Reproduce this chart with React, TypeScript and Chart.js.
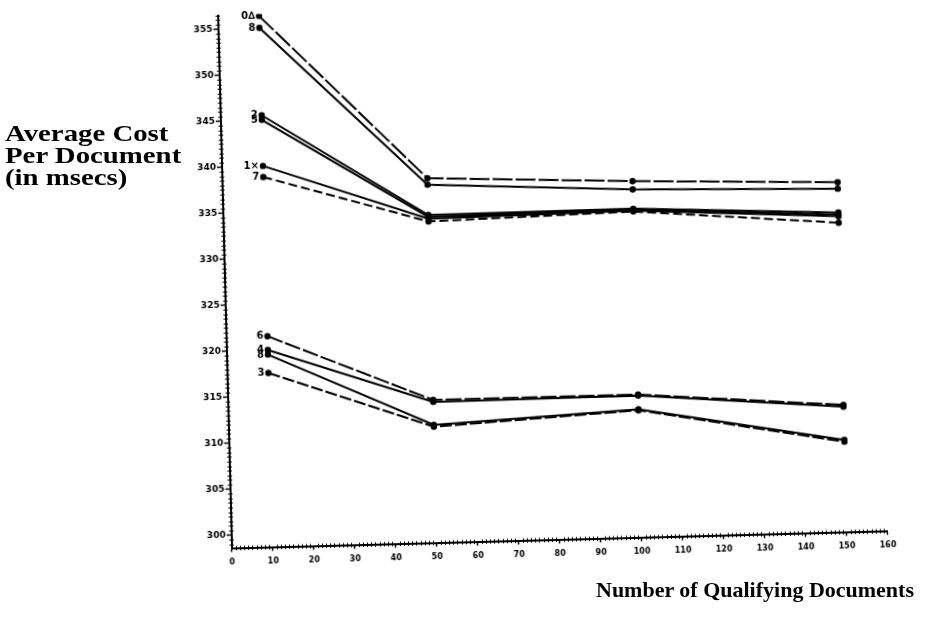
import React, { useEffect, useRef } from "react";
import { Chart, registerables } from "chart.js";

Chart.register(...registerables);

// x positions (number of qualifying documents)
const xValues = [10, 50, 100, 150];

// tick labels
const xTicks = [0, 10, 20, 30, 40, 50, 60, 70, 80, 90, 100, 110, 120, 130, 140, 150, 160];
const yTicks = [300, 305, 310, 315, 320, 325, 330, 335, 340, 345, 350, 355];

// series labels (as written at the start of each curve)
const seriesLabels = ["0\u2206", "8", "2", "5", "1\u00d7", "7", "6", "4", "8", "3"];

// series values: average cost per document (msecs)
const s0 = [356.3, 338.2, 337.3, 336.6];
const s8a = [355.0, 337.5, 336.4, 335.9];
const s2 = [345.5, 334.2, 334.3, 333.3];
const s5 = [345.0, 334.0, 334.2, 333.1];
const s1 = [340.0, 333.8, 334.1, 332.9];
const s7 = [338.8, 333.5, 334.0, 332.2];
const s6 = [321.5, 314.1, 314.1, 312.4];
const s4 = [320.0, 313.9, 314.0, 312.2];
const s8b = [319.5, 311.4, 312.5, 308.6];
const s3 = [317.5, 311.2, 312.4, 308.4];

const seriesValues = [s0, s8a, s2, s5, s1, s7, s6, s4, s8b, s3];
const seriesDash: number[][] = [[20, 3], [], [], [], [], [9, 4], [16, 3], [], [], [12, 3]];

const minorStepX = 1;
const minorStepY = 0.5;

const minorTicksPlugin = {
  id: "minorTicks",
  afterDraw(chart: any) {
    const ctx = chart.ctx;
    const xs = chart.scales.x;
    const ys = chart.scales.y;
    const area = chart.chartArea;
    ctx.save();
    ctx.strokeStyle = "#000";
    ctx.lineWidth = 1;
    ctx.beginPath();
    for (let v = Math.ceil(ys.min / minorStepY) * minorStepY; v <= ys.max; v += minorStepY) {
      if (Math.abs(v / 5 - Math.round(v / 5)) < 1e-6) continue;
      const py = Math.round(ys.getPixelForValue(v)) + 0.5;
      ctx.moveTo(area.left - 2.5, py);
      ctx.lineTo(area.left + 2, py);
    }
    for (let v = Math.ceil(xs.min / minorStepX) * minorStepX; v <= xs.max; v += minorStepX) {
      if (v % 10 === 0) continue;
      const px = Math.round(xs.getPixelForValue(v)) + 0.5;
      ctx.moveTo(px, area.bottom - 2);
      ctx.lineTo(px, area.bottom + 2.5);
    }
    ctx.stroke();
    ctx.restore();
  },
};

const seriesLabelPlugin = {
  id: "seriesLabels",
  afterDatasetsDraw(chart: any) {
    const ctx = chart.ctx;
    ctx.save();
    ctx.fillStyle = "#000";
    ctx.font = "bold 10px 'DejaVu Sans'";
    ctx.textAlign = "right";
    ctx.textBaseline = "middle";
    chart.data.datasets.forEach((ds: any, i: number) => {
      const meta = chart.getDatasetMeta(i);
      const pt = meta.data[0];
      if (!pt) return;
      ctx.fillText(ds.label, pt.x - 4, pt.y);
    });
    ctx.restore();
  },
};

export default function App() {
  const ref = useRef<HTMLCanvasElement | null>(null);

  useEffect(() => {
    if (!ref.current) return;
    const datasets = seriesValues.map((vals, i) => ({
      label: seriesLabels[i],
      data: vals.map((v, j) => ({ x: xValues[j], y: v })),
      borderColor: "#000",
      backgroundColor: "#000",
      borderWidth: 2,
      borderDash: seriesDash[i],
      pointRadius: 2.2,
      pointBackgroundColor: "#000",
      pointBorderColor: "#000",
      tension: 0,
    }));
    const tickFont = { family: "'DejaVu Sans'", weight: "bold" as const, size: 9 };
    const chart = new Chart(ref.current, {
      type: "line",
      data: { datasets },
      plugins: [minorTicksPlugin, seriesLabelPlugin],
      options: {
        animation: false,
        responsive: false,
        devicePixelRatio: 1,
        layout: { padding: { left: 184.9, top: 6.5, right: 46.1, bottom: 49.5 } },
        plugins: { legend: { display: false }, tooltip: { enabled: false }, title: { display: false } },
        scales: {
          x: {
            type: "linear",
            min: 0,
            max: 160,
            afterFit: (s: any) => { s.height = 30; },
            afterBuildTicks: (s: any) => { s.ticks = xTicks.map((v) => ({ value: v })); },
            ticks: { color: "#000", font: { ...tickFont, size: 8 }, padding: 6, maxRotation: 0, autoSkip: false },
            grid: { display: true, drawOnChartArea: false, drawTicks: true, tickLength: 4, tickColor: "#000", tickWidth: 1.5 },
            border: { display: true, color: "#000", width: 2 },
          },
          y: {
            type: "linear",
            min: 298.6,
            max: 356.5,
            afterFit: (s: any) => { s.width = 40; },
            afterBuildTicks: (s: any) => { s.ticks = yTicks.map((v) => ({ value: v })); },
            ticks: { color: "#000", font: tickFont, padding: 1, autoSkip: false },
            grid: { display: true, drawOnChartArea: false, drawTicks: true, tickLength: 5, tickColor: "#000", tickWidth: 1.5 },
            border: { display: true, color: "#000", width: 2 },
          },
        },
      },
    } as any);
    return () => chart.destroy();
  }, []);

  return (
    <div style={{ position: "absolute", left: 0, top: 0, width: 927, height: 619, background: "#fff", overflow: "hidden" }}>
      <canvas
        ref={ref}
        width={927}
        height={619}
        style={{ position: "absolute", left: 0, top: 0, width: 927, height: 619, transform: "rotate(-1.5deg)", transformOrigin: "553px 273px" }}
      />
      <div
        style={{
          position: "absolute",
          left: 5,
          top: 122,
          fontFamily: "'Liberation Serif', serif",
          fontWeight: "bold",
          fontSize: 24,
          lineHeight: "22px",
          transform: "scaleX(1.2)",
          transformOrigin: "0 0",
          whiteSpace: "nowrap",
          color: "#000",
        }}
      >
        <div>Average Cost</div>
        <div>Per Document</div>
        <div>(in msecs)</div>
      </div>
      <div
        style={{
          position: "absolute",
          left: 596,
          top: 577,
          fontFamily: "'Liberation Serif', serif",
          fontWeight: "bold",
          fontSize: 22,
          lineHeight: "26px",
          whiteSpace: "nowrap",
          color: "#000",
        }}
      >
        Number of Qualifying Documents
      </div>
    </div>
  );
}
